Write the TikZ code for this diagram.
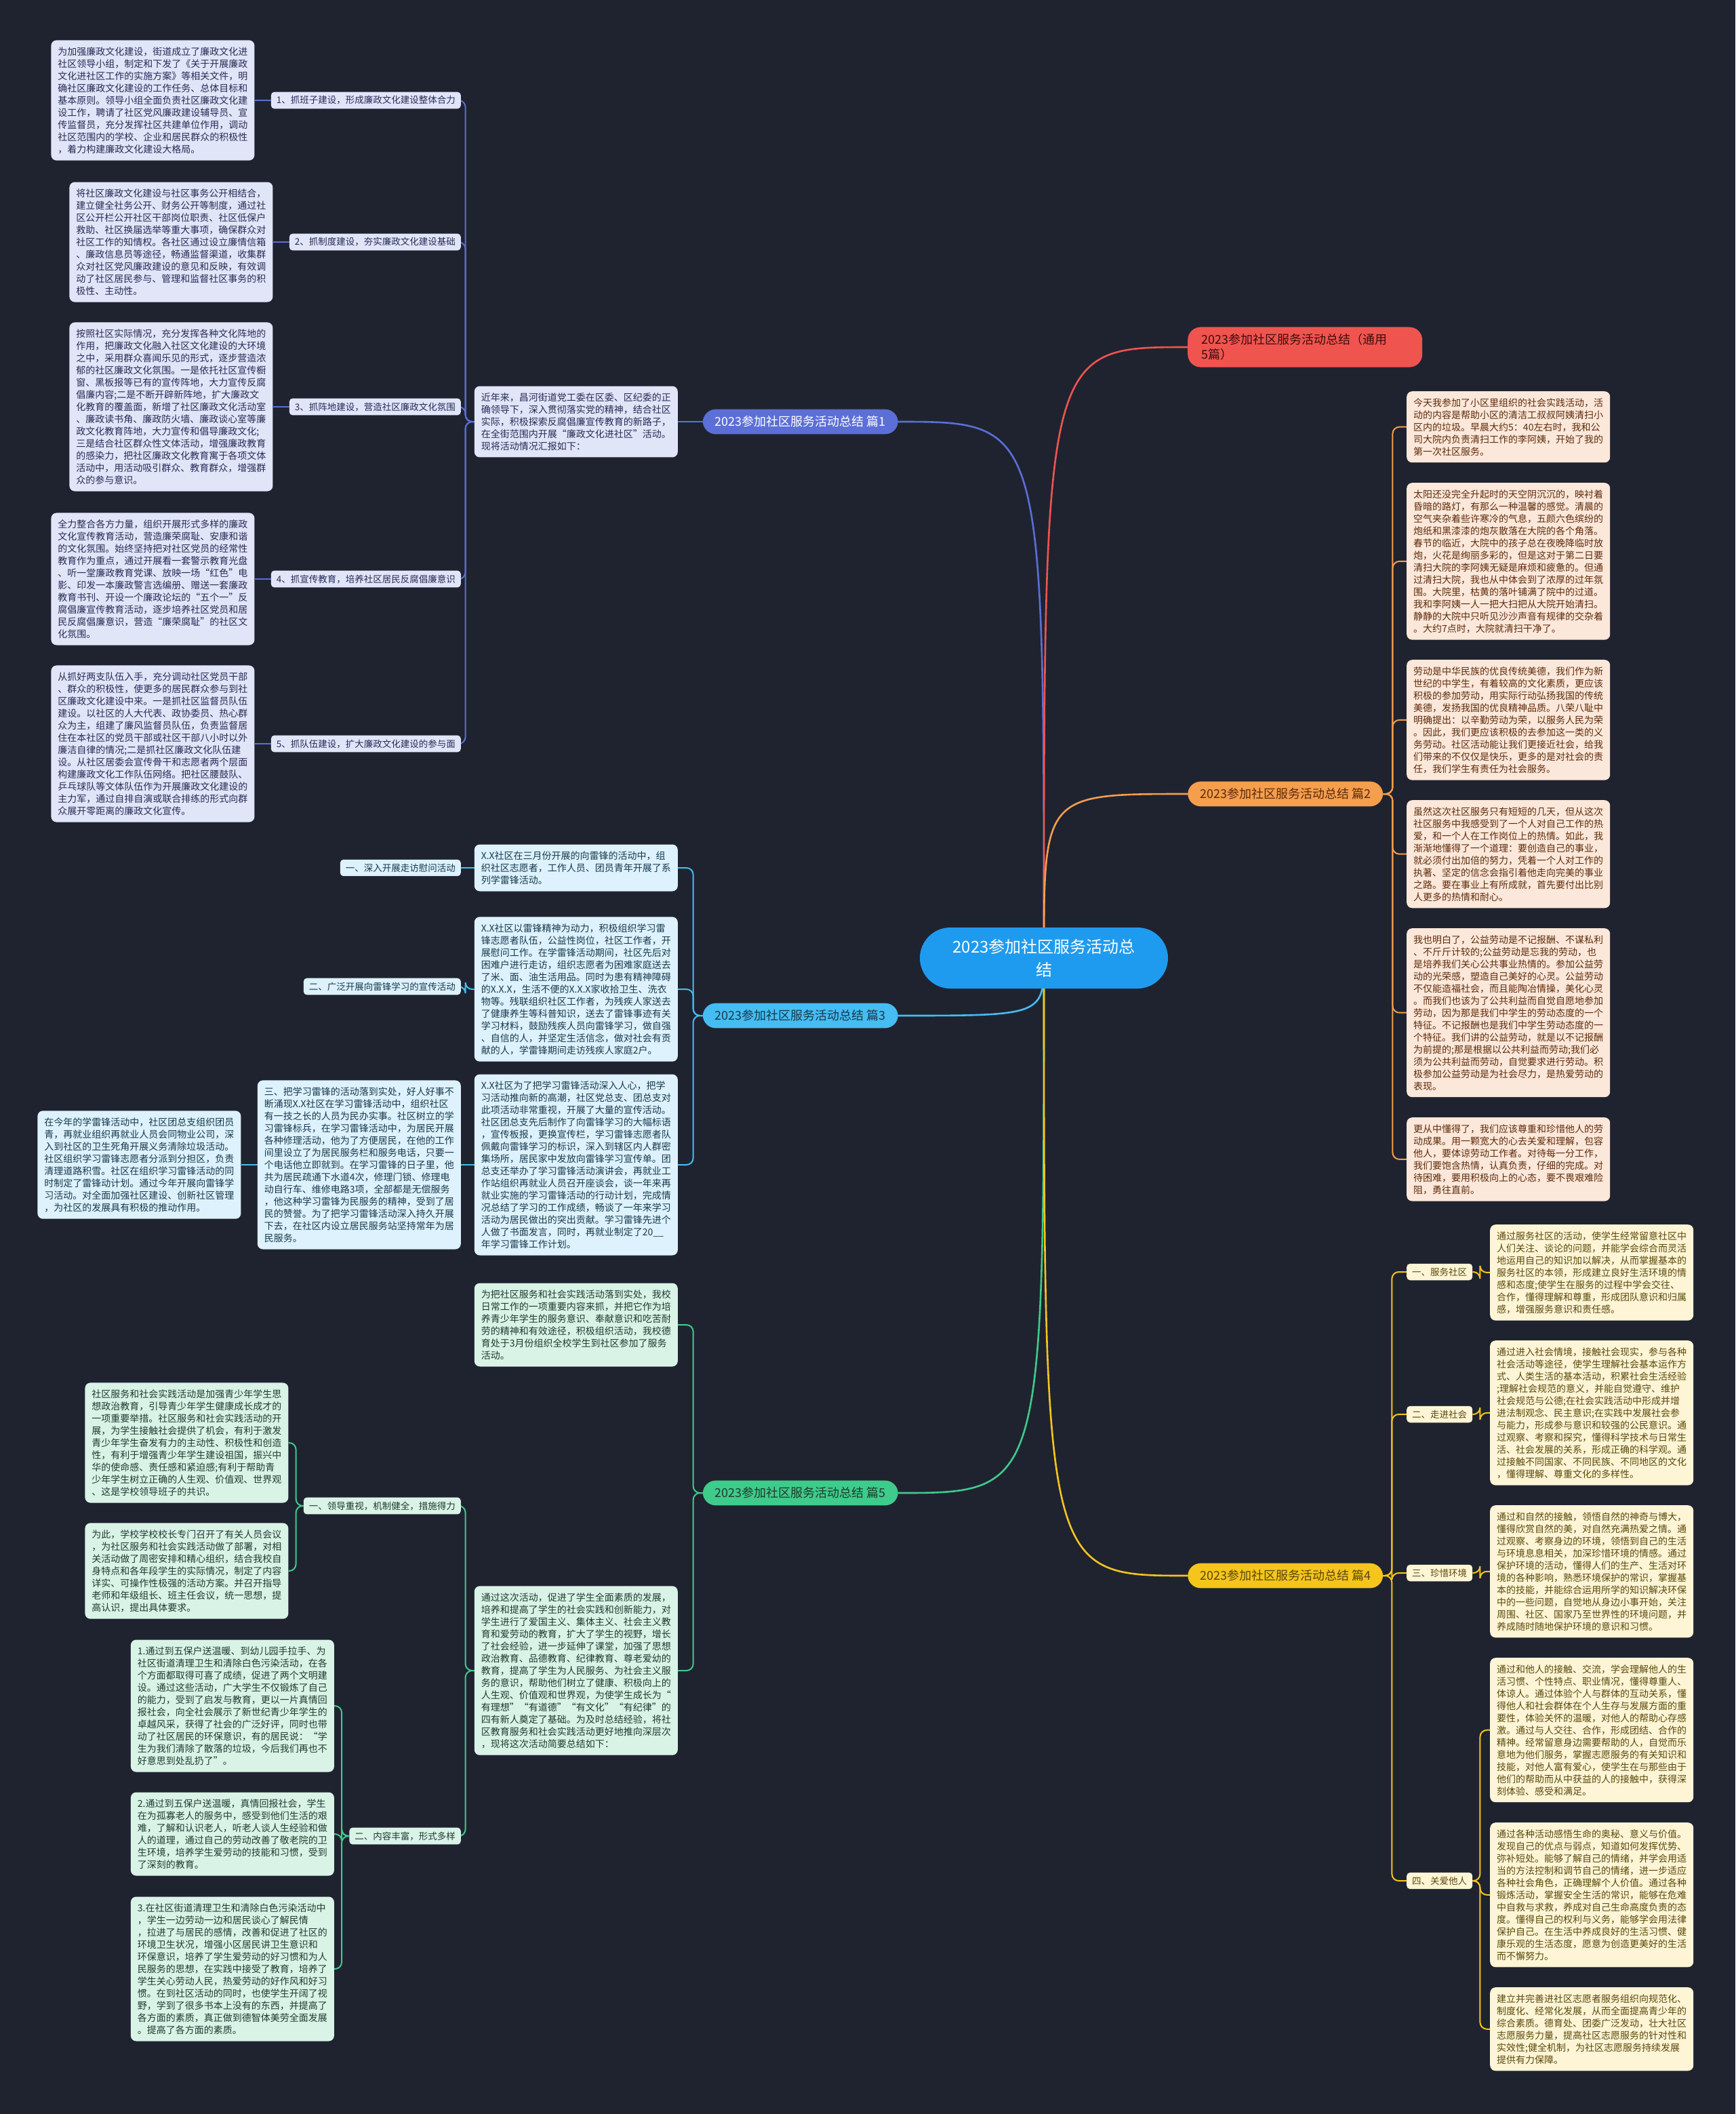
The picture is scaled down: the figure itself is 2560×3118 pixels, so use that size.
\documentclass[tikz,border=0pt]{standalone}
\usepackage{fontspec}
\setmainfont{Noto Sans CJK SC}
\usetikzlibrary{calc}
\pgfdeclarelayer{bg}\pgfdeclarelayer{lines}
\pgfsetlayers{bg,lines,main}
\definecolor{bgc}{HTML}{1F2330}
\definecolor{cM}{HTML}{1E9BEF}
\definecolor{cA}{HTML}{5B6FD6}\definecolor{cAf}{HTML}{E1E5F8}\definecolor{cAt}{HTML}{262B55}
\definecolor{cB}{HTML}{45BDF3}\definecolor{cBf}{HTML}{DDF2FC}\definecolor{cBt}{HTML}{17384D}
\definecolor{cC}{HTML}{3FCB8B}\definecolor{cCf}{HTML}{DAF3E7}\definecolor{cCt}{HTML}{1C3B2E}
\definecolor{cD}{HTML}{F0544F}\definecolor{cDt}{HTML}{3A0E0E}
\definecolor{cE}{HTML}{F59E4C}\definecolor{cEf}{HTML}{FCE8DA}\definecolor{cEt}{HTML}{5C2A0A}
\definecolor{cF}{HTML}{F5C51C}\definecolor{cFf}{HTML}{FDF5D6}\definecolor{cFt}{HTML}{5A470A}
\newcommand\txtfont{\fontsize{14pt}{18pt}\selectfont}
\newcommand\labfont{\fontsize{13.5pt}{16pt}\selectfont}
\tikzset{
  box/.style={rounded corners=8pt, inner xsep=10pt, inner ysep=10pt, text width=280pt, align=left, font=\txtfont},
  lab/.style={rounded corners=5pt, inner xsep=8pt, inner ysep=6pt, font=\labfont},
  br/.style={rounded corners=19pt, inner xsep=18pt, inner ysep=10pt, font=\fontsize{18pt}{22pt}\selectfont, align=center},
  cen/.style={fill=cM, text=white, rounded corners=45pt, minimum width=366pt, minimum height=90pt, align=center, font=\fontsize{24pt}{34pt}\selectfont},
  bA/.style={box, fill=cAf, text=cAt}, lA/.style={lab, fill=cAf, text=cAt},
  bB/.style={box, fill=cBf, text=cBt}, lB/.style={lab, fill=cBf, text=cBt},
  bC/.style={box, fill=cCf, text=cCt}, lC/.style={lab, fill=cCf, text=cCt},
  bE/.style={box, fill=cEf, text=cEt},
  bF/.style={box, fill=cFf, text=cFt}, lF/.style={lab, fill=cFf, text=cFt},
  lnk/.style={line width=2pt, rounded corners=10pt},
  curve/.style={line width=2.6pt},
}
\begin{document}
\begin{tikzpicture}[x=1pt,y=-1pt]
\begin{pgfonlayer}{bg}\fill[bgc] (0,0) rectangle (2560,3118);\end{pgfonlayer}
\useasboundingbox (0,0) rectangle (2560,3118);

% ---------- centre and branches
\node[cen] (cen) at (1540,1413) {2023参加社区服务活动总\\结};
\node[br, fill=cA, text=white, anchor=east] (p1) at (1325,622) {2023参加社区服务活动总结 篇1};
\node[br, fill=cB, text=cBt, anchor=east] (p3) at (1325,1498) {2023参加社区服务活动总结 篇3};
\node[br, fill=cC, text=cCt, anchor=east] (p5) at (1325,2202) {2023参加社区服务活动总结 篇5};
\node[br, fill=cD, text=cDt, anchor=west, align=left, text width=306pt, inner xsep=20pt] (p0) at (1752,512) {2023参加社区服务活动总结（通用\\5篇）};
\node[br, fill=cE, text=cEt, anchor=west] (p2) at (1752,1171) {2023参加社区服务活动总结 篇2};
\node[br, fill=cF, text=cFt, anchor=west] (p4) at (1752,2324) {2023参加社区服务活动总结 篇4};

% ---------- 篇1
\node[bA, anchor=east] (a0) at (1000,622) {近年来，昌河街道党工委在区委、区纪委的正\\确领导下，深入贯彻落实党的精神，结合社区\\实际，积极探索反腐倡廉宣传教育的新路子，\\在全街范围内开展“廉政文化进社区”活动。\\现将活动情况汇报如下：};
\node[lA, anchor=east] (l1) at (680,148) {1、抓班子建设，形成廉政文化建设整体合力};
\node[lA, anchor=east] (l2) at (680,357) {2、抓制度建设，夯实廉政文化建设基础};
\node[lA, anchor=east] (l3) at (680,600) {3、抓阵地建设，营造社区廉政文化氛围};
\node[lA, anchor=east] (l4) at (680,854) {4、抓宣传教育，培养社区居民反腐倡廉意识};
\node[lA, anchor=east] (l5) at (680,1097) {5、抓队伍建设，扩大廉政文化建设的参与面};
\node[bA, anchor=east] (a1) at ($(l1.west)+(-24,0)$) {为加强廉政文化建设，街道成立了廉政文化进\\社区领导小组，制定和下发了《关于开展廉政\\文化进社区工作的实施方案》等相关文件，明\\确社区廉政文化建设的工作任务、总体目标和\\基本原则。领导小组全面负责社区廉政文化建\\设工作，聘请了社区党风廉政建设辅导员、宣\\传监督员，充分发挥社区共建单位作用，调动\\社区范围内的学校、企业和居民群众的积极性\\，着力构建廉政文化建设大格局。};
\node[bA, anchor=east] (a2) at ($(l2.west)+(-24,0)$) {将社区廉政文化建设与社区事务公开相结合，\\建立健全社务公开、财务公开等制度，通过社\\区公开栏公开社区干部岗位职责、社区低保户\\救助、社区换届选举等重大事项，确保群众对\\社区工作的知情权。各社区通过设立廉情信箱\\、廉政信息员等途径，畅通监督渠道，收集群\\众对社区党风廉政建设的意见和反映，有效调\\动了社区居民参与、管理和监督社区事务的积\\极性、主动性。};
\node[bA, anchor=east] (a3) at ($(l3.west)+(-24,0)$) {按照社区实际情况，充分发挥各种文化阵地的\\作用，把廉政文化融入社区文化建设的大环境\\之中，采用群众喜闻乐见的形式，逐步营造浓\\郁的社区廉政文化氛围。一是依托社区宣传橱\\窗、黑板报等已有的宣传阵地，大力宣传反腐\\倡廉内容;二是不断开辟新阵地，扩大廉政文\\化教育的覆盖面，新增了社区廉政文化活动室\\、廉政读书角、廉政防火墙、廉政谈心室等廉\\政文化教育阵地，大力宣传和倡导廉政文化;\\三是结合社区群众性文体活动，增强廉政教育\\的感染力，把社区廉政文化教育寓于各项文体\\活动中，用活动吸引群众、教育群众，增强群\\众的参与意识。};
\node[bA, anchor=east] (a4) at ($(l4.west)+(-24,0)$) {全力整合各方力量，组织开展形式多样的廉政\\文化宣传教育活动，营造廉荣腐耻、安康和谐\\的文化氛围。始终坚持把对社区党员的经常性\\教育作为重点，通过开展看一套警示教育光盘\\、听一堂廉政教育党课、放映一场“红色”电\\影、印发一本廉政警言选编册、赠送一套廉政\\教育书刊、开设一个廉政论坛的“五个一”反\\腐倡廉宣传教育活动，逐步培养社区党员和居\\民反腐倡廉意识，营造“廉荣腐耻”的社区文\\化氛围。};
\node[bA, anchor=east] (a5) at ($(l5.west)+(-24,0)$) {从抓好两支队伍入手，充分调动社区党员干部\\、群众的积极性，使更多的居民群众参与到社\\区廉政文化建设中来。一是抓社区监督员队伍\\建设。以社区的人大代表、政协委员、热心群\\众为主，组建了廉风监督员队伍，负责监督居\\住在本社区的党员干部或社区干部八小时以外\\廉洁自律的情况;二是抓社区廉政文化队伍建\\设。从社区居委会宣传骨干和志愿者两个层面\\构建廉政文化工作队伍网络。把社区腰鼓队、\\乒乓球队等文体队伍作为开展廉政文化建设的\\主力军，通过自排自演或联合排练的形式向群\\众展开零距离的廉政文化宣传。};

% ---------- 篇3
\node[bB, anchor=east] (b1) at (1000,1280) {X.X社区在三月份开展的向雷锋的活动中，组\\织社区志愿者，工作人员、团员青年开展了系\\列学雷锋活动。};
\node[bB, anchor=east] (b2) at (1000,1459) {X.X社区以雷锋精神为动力，积极组织学习雷\\锋志愿者队伍，公益性岗位，社区工作者，开\\展慰问工作。在学雷锋活动期间，社区先后对\\困难户进行走访，组织志愿者为困难家庭送去\\了米、面、油生活用品。同时为患有精神障碍\\的X.X.X，生活不便的X.X.X家收拾卫生、洗衣\\物等。残联组织社区工作者，为残疾人家送去\\了健康养生等科普知识，送去了雷锋事迹有关\\学习材料，鼓励残疾人员向雷锋学习，做自强\\、自信的人，并坚定生活信念，做对社会有贡\\献的人，学雷锋期间走访残疾人家庭2户。};
\node[bB, anchor=east] (b3) at (1000,1718) {X.X社区为了把学习雷锋活动深入人心，把学\\习活动推向新的高潮，社区党总支、团总支对\\此项活动非常重视，开展了大量的宣传活动。\\社区团总支先后制作了向雷锋学习的大幅标语\\，宣传板报，更换宣传栏，学习雷锋志愿者队\\佩戴向雷锋学习的标识，深入到辖区内人群密\\集场所，居民家中发放向雷锋学习宣传单。团\\总支还举办了学习雷锋活动演讲会，再就业工\\作站组织再就业人员召开座谈会，谈一年来再\\就业实施的学习雷锋活动的行动计划，完成情\\况总结了学习的工作成绩，畅谈了一年来学习\\活动为居民做出的突出贡献。学习雷锋先进个\\人做了书面发言，同时，再就业制定了20\_\_\\年学习雷锋工作计划。};
\node[lB, anchor=east] (bl1) at (680,1280) {一、深入开展走访慰问活动};
\node[lB, anchor=east] (bl2) at (680,1455) {二、广泛开展向雷锋学习的宣传活动};
\node[bB, anchor=east] (b4) at (680,1718) {三、把学习雷锋的活动落到实处，好人好事不\\断涌现X.X社区在学习雷锋活动中，组织社区\\有一技之长的人员为民办实事。社区树立的学\\习雷锋标兵，在学习雷锋活动中，为居民开展\\各种修理活动，他为了方便居民，在他的工作\\间里设立了为居民服务栏和服务电话，只要一\\个电话他立即就到。在学习雷锋的日子里，他\\共为居民疏通下水道4次，修理门锁、修理电\\动自行车、维修电路3项，全部都是无偿服务\\，他这种学习雷锋为民服务的精神，受到了居\\民的赞誉。为了把学习雷锋活动深入持久开展\\下去，在社区内设立居民服务站坚持常年为居\\民服务。};
\node[bB, anchor=east] (b5) at ($(b4.west)+(-24,0)$) {在今年的学雷锋活动中，社区团总支组织团员\\青，再就业组织再就业人员会同物业公司，深\\入到社区的卫生死角开展义务清除垃圾活动。\\社区组织学习雷锋志愿者分派到分担区，负责\\清理道路积雪。社区在组织学习雷锋活动的同\\时制定了雷锋动计划。通过今年开展向雷锋学\\习活动。对全面加强社区建设、创新社区管理\\，为社区的发展具有积极的推动作用。};

% ---------- 篇5
\node[bC, anchor=east] (c1) at (1000,1954) {为把社区服务和社会实践活动落到实处，我校\\日常工作的一项重要内容来抓，并把它作为培\\养青少年学生的服务意识、奉献意识和吃苦耐\\劳的精神和有效途径，积极组织活动，我校德\\育处于3月份组织全校学生到社区参加了服务\\活动。};
\node[bC, anchor=east] (c2) at (1000,2464) {通过这次活动，促进了学生全面素质的发展，\\培养和提高了学生的社会实践和创新能力，对\\学生进行了爱国主义、集体主义、社会主义教\\育和爱劳动的教育，扩大了学生的视野，增长\\了社会经验，进一步延伸了课堂，加强了思想\\政治教育、品德教育、纪律教育、尊老爱幼的\\教育，提高了学生为人民服务、为社会主义服\\务的意识，帮助他们树立了健康、积极向上的\\人生观、价值观和世界观，为使学生成长为“\\有理想”“有道德”“有文化”“有纪律”的\\四有新人奠定了基础。为及时总结经验，将社\\区教育服务和社会实践活动更好地推向深层次\\，现将这次活动简要总结如下：};
\node[lC, anchor=east] (cl1) at (680,2221) {一、领导重视，机制健全，措施得力};
\node[lC, anchor=east] (cl2) at (680,2708) {二、内容丰富，形式多样};
\node[bC, anchor=east] (c3) at ($(cl1.west)+(-22,-93)$) {社区服务和社会实践活动是加强青少年学生思\\想政治教育，引导青少年学生健康成长成才的\\一项重要举措。社区服务和社会实践活动的开\\展，为学生接触社会提供了机会，有利于激发\\青少年学生奋发有力的主动性、积极性和创造\\性，有利于增强青少年学生建设祖国，振兴中\\华的使命感、责任感和紧迫感;有利于帮助青\\少年学生树立正确的人生观、价值观、世界观\\、这是学校领导班子的共识。};
\node[bC, anchor=east] (c4) at ($(cl1.west)+(-22,96)$) {为此，学校学校校长专门召开了有关人员会议\\，为社区服务和社会实践活动做了部署，对相\\关活动做了周密安排和精心组织，结合我校自\\身特点和各年段学生的实际情况，制定了内容\\详实、可操作性极强的活动方案。并召开指导\\老师和年级组长、班主任会议，统一思想，提\\高认识，提出具体要求。};
\node[bC, anchor=east] (c5) at ($(cl2.west)+(-22,-192)$) {1.通过到五保户送温暖、到幼儿园手拉手、为\\社区街道清理卫生和清除白色污染活动，在各\\个方面都取得可喜了成绩，促进了两个文明建\\设。通过这些活动，广大学生不仅锻炼了自己\\的能力，受到了启发与教育，更以一片真情回\\报社会，向全社会展示了新世纪青少年学生的\\卓越风采，获得了社会的广泛好评，同时也带\\动了社区居民的环保意识，有的居民说：“学\\生为我们清除了散落的垃圾，今后我们再也不\\好意思到处乱扔了”。};
\node[bC, anchor=east] (c6) at ($(cl2.west)+(-22,-3)$) {2.通过到五保户送温暖，真情回报社会，学生\\在为孤寡老人的服务中，感受到他们生活的艰\\难，了解和认识老人，听老人谈人生经验和做\\人的道理，通过自己的劳动改善了敬老院的卫\\生环境，培养学生爱劳动的技能和习惯，受到\\了深刻的教育。};
\node[bC, anchor=east] (c7) at ($(cl2.west)+(-22,196)$) {3.在社区街道清理卫生和清除白色污染活动中\\，学生一边劳动一边和居民谈心了解民情\\，拉进了与居民的感情，改善和促进了社区的\\环境卫生状况，增强小区居民讲卫生意识和\\环保意识，培养了学生爱劳动的好习惯和为人\\民服务的思想，在实践中接受了教育，培养了\\学生关心劳动人民，热爱劳动的好作风和好习\\惯。在到社区活动的同时，也使学生开阔了视\\野，学到了很多书本上没有的东西，并提高了\\各方面的素质，真正做到德智体美劳全面发展\\。提高了各方面的素质。};

% ---------- 篇2
\node[bE, anchor=north west] (e1) at (2075,577) {今天我参加了小区里组织的社会实践活动，活\\动的内容是帮助小区的清洁工叔叔阿姨清扫小\\区内的垃圾。早晨大约5：40左右时，我和公\\司大院内负责清扫工作的李阿姨，开始了我的\\第一次社区服务。};
\node[bE, anchor=north west] (e2) at (2075,712) {太阳还没完全升起时的天空阴沉沉的，映衬着\\昏暗的路灯，有那么一种温馨的感觉。清晨的\\空气夹杂着些许寒冷的气息，五颜六色缤纷的\\炮纸和黑漆漆的炮灰散落在大院的各个角落。\\春节的临近，大院中的孩子总在夜晚降临时放\\炮，火花是绚丽多彩的，但是这对于第二日要\\清扫大院的李阿姨无疑是麻烦和疲惫的。但通\\过清扫大院，我也从中体会到了浓厚的过年氛\\围。大院里，枯黄的落叶铺满了院中的过道。\\我和李阿姨一人一把大扫把从大院开始清扫。\\静静的大院中只听见沙沙声音有规律的交杂着\\。大约7点时，大院就清扫干净了。};
\node[bE, anchor=north west] (e3) at (2075,973) {劳动是中华民族的优良传统美德，我们作为新\\世纪的中学生，有着较高的文化素质，更应该\\积极的参加劳动，用实际行动弘扬我国的传统\\美德，发扬我国的优良精神品质。八荣八耻中\\明确提出：以辛勤劳动为荣，以服务人民为荣\\。因此，我们更应该积极的去参加这一类的义\\务劳动。社区活动能让我们更接近社会，给我\\们带来的不仅仅是快乐，更多的是对社会的责\\任，我们学生有责任为社会服务。};
\node[bE, anchor=north west] (e4) at (2075,1180) {虽然这次社区服务只有短短的几天，但从这次\\社区服务中我感受到了一个人对自己工作的热\\爱，和一个人在工作岗位上的热情。如此，我\\渐渐地懂得了一个道理：要创造自己的事业，\\就必须付出加倍的努力，凭着一个人对工作的\\执著、坚定的信念会指引着他走向完美的事业\\之路。要在事业上有所成就，首先要付出比别\\人更多的热情和耐心。};
\node[bE, anchor=north west] (e5) at (2075,1369) {我也明白了，公益劳动是不记报酬、不谋私利\\、不斤斤计较的;公益劳动是忘我的劳动，也\\是培养我们关心公共事业热情的。参加公益劳\\动的光荣感，塑造自己美好的心灵。公益劳动\\不仅能造福社会，而且能陶冶情操，美化心灵\\。而我们也该为了公共利益而自觉自愿地参加\\劳动，因为那是我们中学生的劳动态度的一个\\特征。不记报酬也是我们中学生劳动态度的一\\个特征。我们讲的公益劳动，就是以不记报酬\\为前提的;那是根据以公共利益而劳动;我们必\\须为公共利益而劳动，自觉要求进行劳动。积\\极参加公益劳动是为社会尽力，是热爱劳动的\\表现。};
\node[bE, anchor=north west] (e6) at (2075,1648) {更从中懂得了，我们应该尊重和珍惜他人的劳\\动成果。用一颗宽大的心去关爱和理解，包容\\他人，要体谅劳动工作者。对待每一分工作，\\我们要饱含热情，认真负责，仔细的完成。对\\待困难，要用积极向上的心态，要不畏艰难险\\阻，勇往直前。};

% ---------- 篇4
\node[lF, anchor=west] (fl1) at (2075,1876) {一、服务社区};
\node[lF, anchor=west] (fl2) at (2075,2086) {二、走进社会};
\node[lF, anchor=west] (fl3) at (2075,2320) {三、珍惜环境};
\node[lF, anchor=west] (fl4) at (2075,2774) {四、关爱他人};
\node[bF, anchor=north west] (f1) at (2198,1806) {通过服务社区的活动，使学生经常留意社区中\\人们关注、谈论的问题，并能学会综合而灵活\\地运用自己的知识加以解决，从而掌握基本的\\服务社区的本领，形成建立良好生活环境的情\\感和态度;使学生在服务的过程中学会交往、\\合作，懂得理解和尊重，形成团队意识和归属\\感，增强服务意识和责任感。};
\node[bF, anchor=north west] (f2) at (2198,1977) {通过进入社会情境，接触社会现实，参与各种\\社会活动等途径，使学生理解社会基本运作方\\式、人类生活的基本活动，积累社会生活经验\\;理解社会规范的意义，并能自觉遵守、维护\\社会规范与公德;在社会实践活动中形成并增\\进法制观念、民主意识;在实践中发展社会参\\与能力，形成参与意识和较强的公民意识。通\\过观察、考察和探究，懂得科学技术与日常生\\活、社会发展的关系，形成正确的科学观。通\\过接触不同国家、不同民族、不同地区的文化\\，懂得理解、尊重文化的多样性。};
\node[bF, anchor=north west] (f3) at (2198,2220) {通过和自然的接触，领悟自然的神奇与博大，\\懂得欣赏自然的美，对自然充满热爱之情。通\\过观察、考察身边的环境，领悟到自己的生活\\与环境息息相关，加深珍惜环境的情感。通过\\保护环境的活动，懂得人们的生产、生活对环\\境的各种影响，熟悉环境保护的常识，掌握基\\本的技能，并能综合运用所学的知识解决环保\\中的一些问题，自觉地从身边小事开始，关注\\周围、社区、国家乃至世界性的环境问题，并\\养成随时随地保护环境的意识和习惯。};
\node[bF, anchor=north west] (f4) at (2198,2445) {通过和他人的接触、交流，学会理解他人的生\\活习惯、个性特点、职业情况，懂得尊重人、\\体谅人。通过体验个人与群体的互动关系，懂\\得他人和社会群体在个人生存与发展方面的重\\要性，体验关怀的温暖，对他人的帮助心存感\\激。通过与人交往、合作，形成团结、合作的\\精神。经常留意身边需要帮助的人，自觉而乐\\意地为他们服务，掌握志愿服务的有关知识和\\技能，对他人富有爱心，使学生在与那些由于\\他们的帮助而从中获益的人的接触中，获得深\\刻体验、感受和满足。};
\node[bF, anchor=north west] (f5) at (2198,2688) {通过各种活动感悟生命的奥秘、意义与价值。\\发现自己的优点与弱点，知道如何发挥优势、\\弥补短处。能够了解自己的情绪，并学会用适\\当的方法控制和调节自己的情绪，进一步适应\\各种社会角色，正确理解个人价值。通过各种\\锻炼活动，掌握安全生活的常识，能够在危难\\中自救与求救，养成对自己生命高度负责的态\\度。懂得自己的权利与义务，能够学会用法律\\保护自己。在生活中养成良好的生活习惯、健\\康乐观的生活态度，愿意为创造更美好的生活\\而不懈努力。};
\node[bF, anchor=north west] (f6) at (2198,2931) {建立并完善进社区志愿者服务组织向规范化、\\制度化、经常化发展，从而全面提高青少年的\\综合素质。德育处、团委广泛发动，壮大社区\\志愿服务力量，提高社区志愿服务的针对性和\\实效性;健全机制，为社区志愿服务持续发展\\提供有力保障。};

% ---------- connectors
\begin{pgfonlayer}{lines}
\draw[curve, cA] (cen.center) .. controls (cen.center |- p1.east) .. (p1.east);
\draw[curve, cB] (cen.center) .. controls (cen.center |- p3.east) .. (p3.east);
\draw[curve, cC] (cen.center) .. controls (cen.center |- p5.east) .. (p5.east);
\draw[curve, cD] (cen.center) .. controls (cen.center |- p0.west) .. (p0.west);
\draw[curve, cE] (cen.center) .. controls (cen.center |- p2.west) .. (p2.west);
\draw[curve, cF] (cen.center) .. controls (cen.center |- p4.west) .. (p4.west);
% 篇1
\draw[lnk, cA] (p1.west) -- (a0.east);
\foreach \n in {l1,l2,l3,l4,l5} \draw[lnk, cA] (a0.west) -- ++(-13,0) |- (\n.east);
\draw[lnk, cA] (l1.west) -- (a1.east);
\draw[lnk, cA] (l2.west) -- (a2.east);
\draw[lnk, cA] (l3.west) -- (a3.east);
\draw[lnk, cA] (l4.west) -- (a4.east);
\draw[lnk, cA] (l5.west) -- (a5.east);
% 篇3
\foreach \n in {b1,b2,b3} \draw[lnk, cB] (p3.west) -- ++(-14,0) |- (\n.east);
\draw[lnk, cB] (b1.west) -- (bl1.east);
\draw[lnk, cB] (b2.west) -- ++(-13,0) |- (bl2.east);
\draw[lnk, cB] (b3.west) -- (b4.east);
\draw[lnk, cB] (b4.west) -- (b5.east);
% 篇5
\foreach \n in {c1,c2} \draw[lnk, cC] (p5.west) -- ++(-14,0) |- (\n.east);
\foreach \n in {cl1,cl2} \draw[lnk, cC] (c2.west) -- ++(-13,0) |- (\n.east);
\foreach \n in {c3,c4} \draw[lnk, cC] (cl1.west) -- ++(-11,0) |- (\n.east);
\foreach \n in {c5,c6,c7} \draw[lnk, cC] (cl2.west) -- ++(-11,0) |- (\n.east);
% 篇2
\foreach \n in {e1,e2,e3,e4,e5,e6} \draw[lnk, cE] (p2.east) -- ++(14,0) |- (\n.west);
% 篇4
\foreach \n in {fl1,fl2,fl3,fl4} \draw[lnk, cF] (p4.east) -- ++(13,0) |- (\n.west);
\draw[lnk, cF] (fl1.east) -- ++(11,0) |- (f1.west);
\draw[lnk, cF] (fl2.east) -- ++(11,0) |- (f2.west);
\draw[lnk, cF] (fl3.east) -- ++(11,0) |- (f3.west);
\foreach \n in {f4,f5,f6} \draw[lnk, cF] (fl4.east) -- ++(11,0) |- (\n.west);
\end{pgfonlayer}
\end{tikzpicture}
\end{document}
